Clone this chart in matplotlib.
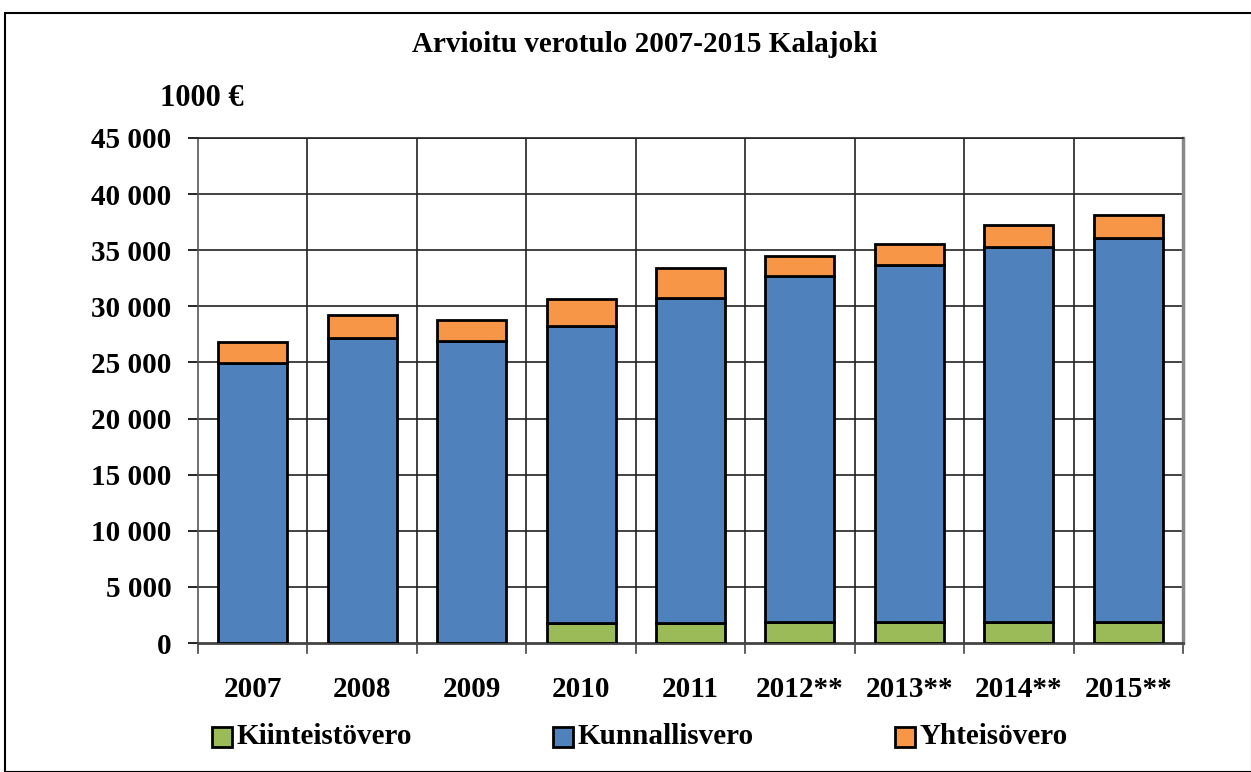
import matplotlib
matplotlib.use("Agg")
import matplotlib.pyplot as plt
import matplotlib.patches as mpatches
import numpy as np

years = ["2007", "2008", "2009", "2010", "2011", "2012**", "2013**", "2014**", "2015**"]
kiinteisto = [0, 0, 0, 1750, 1800, 1850, 1850, 1850, 1850]
kunnallis = [24950, 27150, 26910, 26500, 28910, 30850, 31810, 33410, 34210]
yhteiso = [1870, 2080, 1870, 2400, 2730, 1790, 1900, 1960, 2110]
series_names = ['Kiinteistövero', 'Kunnallisvero', 'Yhteisövero']

c_green = "#9BBB59"
c_blue = "#4F81BD"
c_orange = "#F79646"

plt.rcParams['font.family'] = ['Liberation Serif', 'DejaVu Serif']
plt.rcParams['font.weight'] = 'bold'

W, H = 1251, 772
fig = plt.figure(figsize=(W/100, H/100), dpi=100)

# outer border
fig.patches.append(mpatches.Rectangle((5/W, 0), (W-4)/W, (H-13)/H, transform=fig.transFigure,
                                      fill=False, edgecolor='black', linewidth=1.5))

ax = fig.add_axes([198/W, (H-643)/H, (1183-198)/W, (643-138)/H])
x = np.arange(len(years))
bw = 0.63
kw = dict(width=bw, edgecolor='black', linewidth=2, zorder=3)
ax.bar(x, kiinteisto, color=c_green, label=series_names[0], **kw)
ax.bar(x, kunnallis, bottom=kiinteisto, color=c_blue, label=series_names[1], **kw)
bottom2 = [a + b for a, b in zip(kiinteisto, kunnallis)]
ax.bar(x, yhteiso, bottom=bottom2, color=c_orange, label=series_names[2], **kw)

ax.set_xlim(-0.5, len(years) - 0.5)
ax.set_ylim(0, 45000)
ax.set_yticks(np.arange(0, 45001, 5000))
ax.set_yticklabels([f"{v:,}".replace(",", " ") for v in range(0, 45001, 5000)], fontsize=21, fontweight='bold')
ax.set_xticks(x)
ax.set_xticklabels(years, fontsize=21, fontweight='bold')
ax.tick_params(axis='x', length=0, pad=24)
ax.tick_params(axis='y', length=7, width=1.2, direction='out', pad=12)

# gridlines
for yv in range(5000, 45001, 5000):
    ax.axhline(yv, color='#222222', linewidth=1.2, zorder=1)
for xv in np.arange(0.5, len(years) - 0.5, 1):
    ax.axvline(xv, color='#222222', linewidth=1.2, zorder=1)
# bottom category tick marks
for xv in np.arange(-0.5, len(years), 1):
    ax.plot([xv, xv], [0, -0.02], transform=ax.get_xaxis_transform(), color='#444444',
            linewidth=1.2, clip_on=False)

ax.spines['top'].set_color('#222222')
ax.spines['top'].set_linewidth(1.2)
ax.spines['right'].set_color('#888888')
ax.spines['right'].set_linewidth(2.5)
ax.spines['left'].set_color('#555555')
ax.spines['left'].set_linewidth(1.2)
ax.spines['bottom'].set_color('#444444')
ax.spines['bottom'].set_linewidth(2)

fig.text(645/W, 1 - 44/H, "Arvioitu verotulo 2007-2015 Kalajoki", ha='center', va='center',
         fontsize=21, fontweight='bold')
fig.text(160/W, 1 - 99/H, "1000 €", ha='left', va='center', fontsize=22, fontweight='bold')

# legend (manual placement to match the reference's spacing)
leg_x = [212, 553, 895]
for px, col, name in zip(leg_x, (c_green, c_blue, c_orange), series_names):
    fig.patches.append(mpatches.Rectangle((px/W, 1 - 747/H), 20/W, 20/H, transform=fig.transFigure,
                                          facecolor=col, edgecolor='black', linewidth=2))
    fig.text((px + 25)/W, 1 - 737/H, name, ha='left', va='center', fontsize=21, fontweight='bold')

fig.savefig("out.png", dpi=100)
